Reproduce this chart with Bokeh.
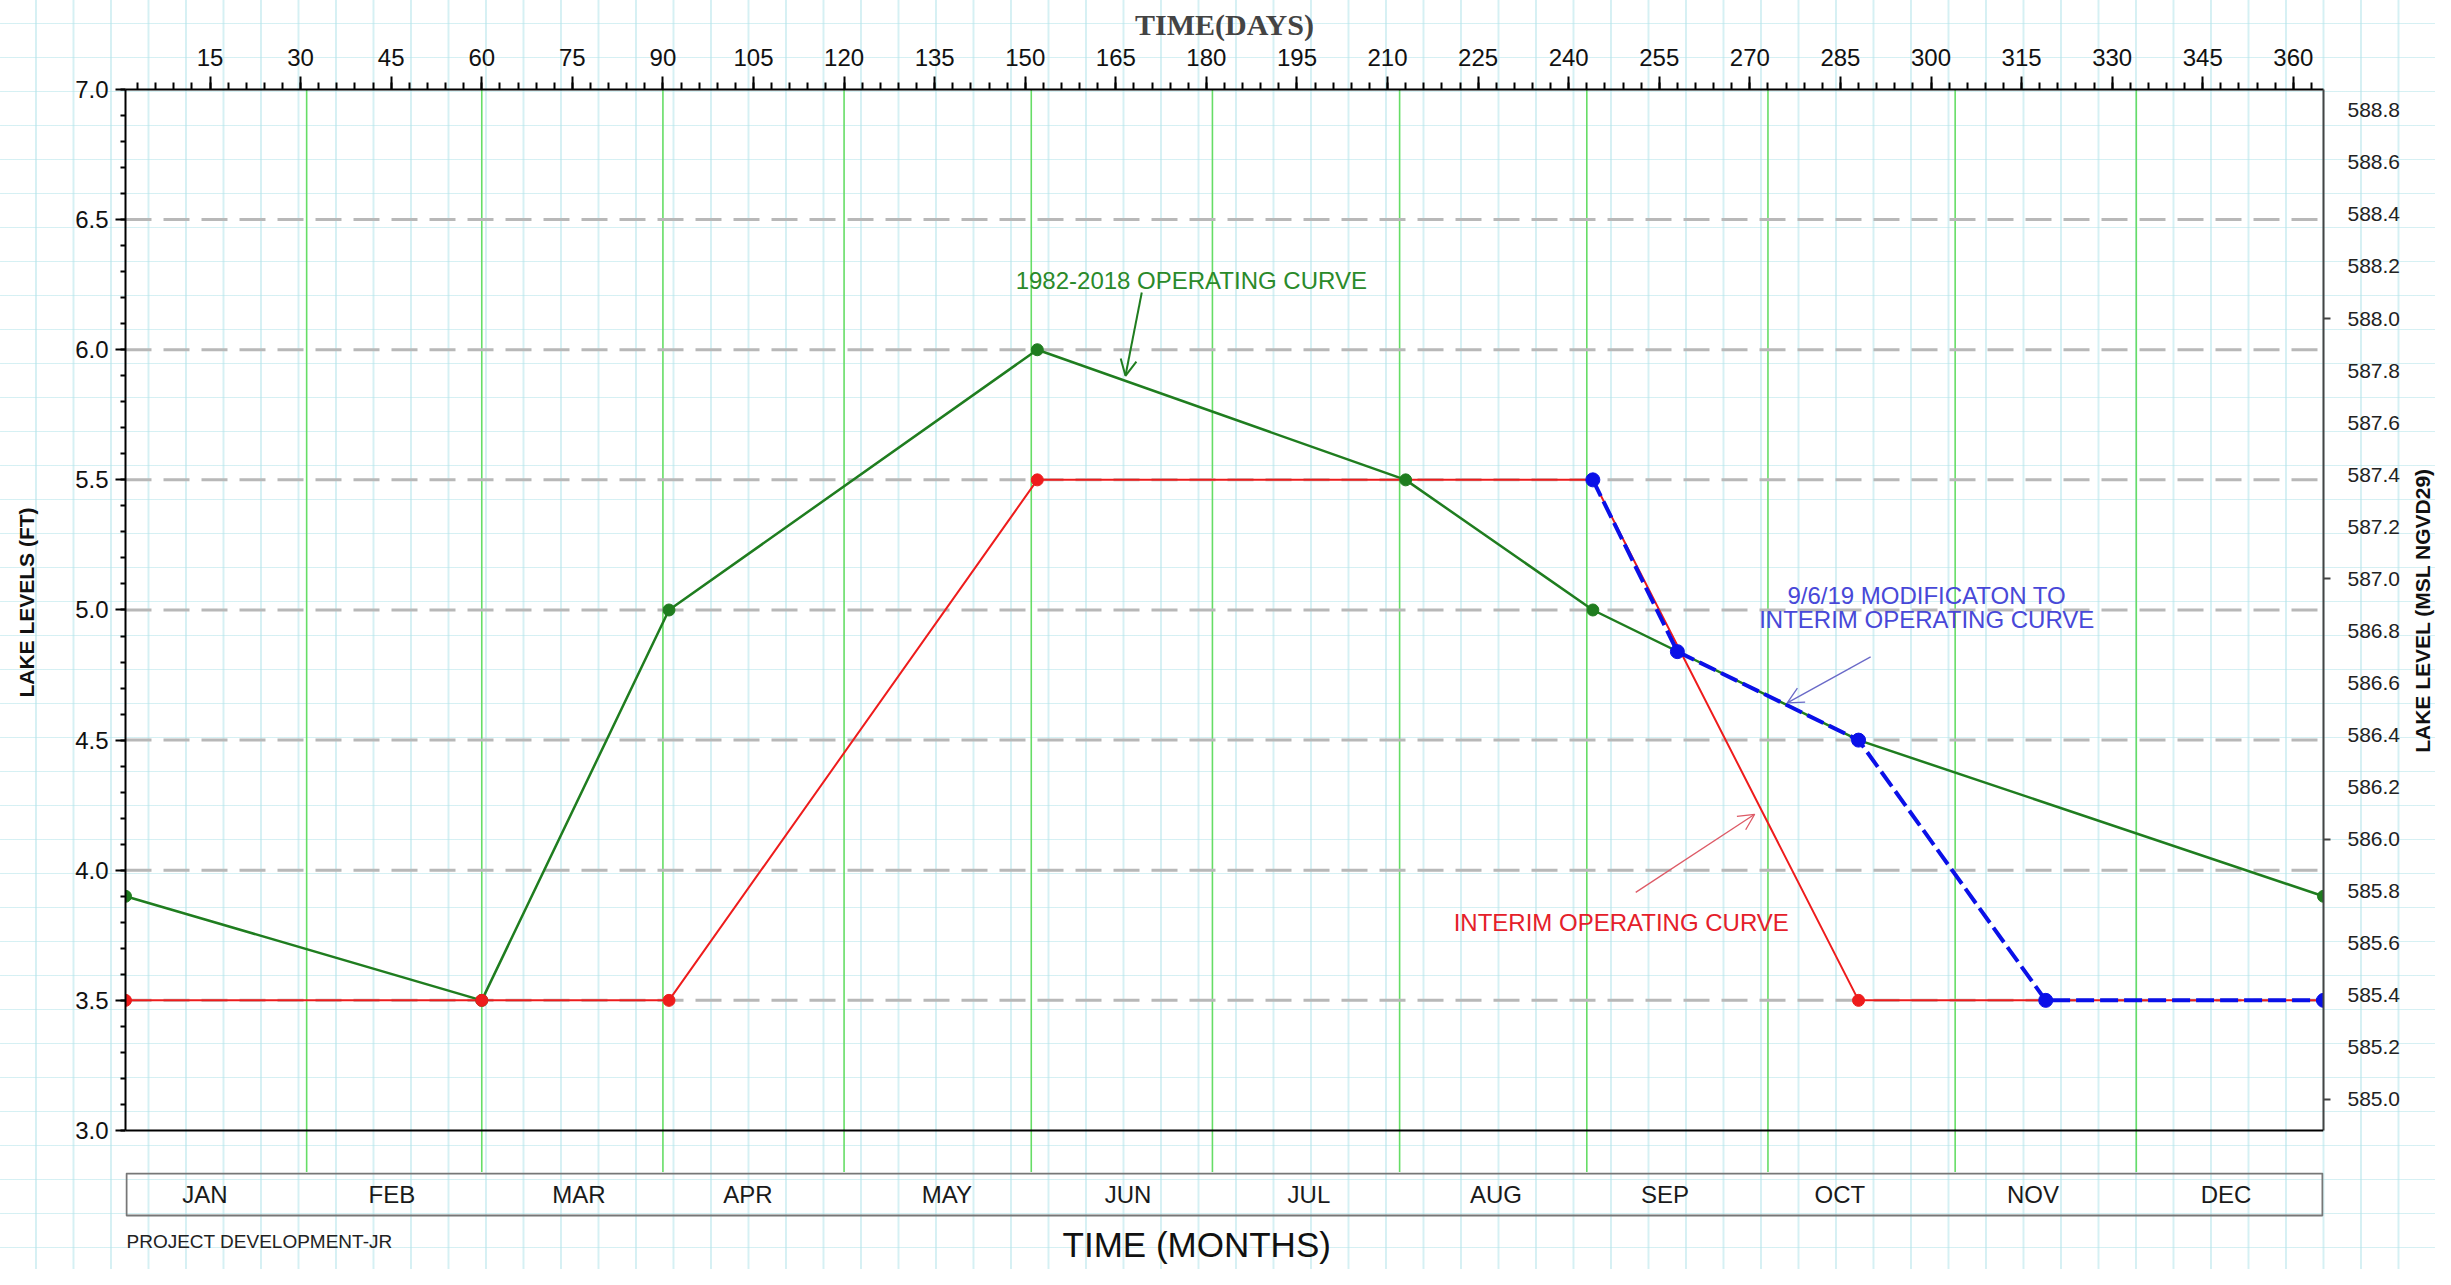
import math
from bokeh.plotting import figure
from bokeh.models import (Range1d, LinearAxis, FixedTicker, PrintfTickFormatter, Span,
                          Arrow, OpenHead, Title, InlineStyleSheet)
from bokeh.layouts import column, row
from bokeh.embed import file_html
from bokeh.resources import INLINE
from bokeh.core.properties import value

# ---------------- data ----------------
GREEN_DAYS = [1, 60, 91, 152, 213, 244, 288, 365]
GREEN_FT = [3.9, 3.5, 5.0, 6.0, 5.5, 5.0, 4.5, 3.9]
GREEN_MARK_IDX = [0, 1, 2, 3, 4, 5, 7]

RED_DAYS = [1, 60, 91, 152, 213, 244, 288, 365]
RED_FT = [3.5, 3.5, 3.5, 5.5, 5.5, 5.5, 3.5, 3.5]
RED_MARK_IDX = [0, 1, 2, 3, 6]

BLUE_DAYS = [244, 258, 288, 319, 365]
BLUE_FT = [5.5, 4.84, 4.5, 3.5, 3.5]

MONTHS = ["JAN", "FEB", "MAR", "APR", "MAY", "JUN", "JUL", "AUG", "SEP", "OCT", "NOV", "DEC"]
MONTH_LABEL_DAYS = [14, 45, 76, 104, 137, 167, 197, 228, 256, 285, 317, 349]
MONTH_EDGES = [31, 60, 90, 120, 151, 181, 212, 243, 273, 304, 334]

DAY_TICKS = list(range(15, 361, 15))
DAY_MINOR = list(range(3, 364, 3))
FT_TICKS = [3.0, 3.5, 4.0, 4.5, 5.0, 5.5, 6.0, 6.5, 7.0]
FT_MINOR = [round(3.0 + 0.1 * i, 1) for i in range(41)]
GRID_FT = [3.5, 4.0, 4.5, 5.0, 5.5, 6.0, 6.5]
MSL_OFFSET = 581.88
MSL_TICKS = [round(585.0 + 0.2 * i, 1) for i in range(20)]
MSL_MINOR = [585.0, 586.0, 587.0, 588.0]

# annotation texts / anchors (data coords of the main plot)
GREEN_NOTE = ("1982-2018 OPERATING CURVE", 177.5, 6.265)
GREEN_ARROW = (169.3, 6.22, 166.6, 5.90)
BLUE_NOTE = (["9/6/19 MODIFICATON TO", "INTERIM OPERATING CURVE"], 299.3, [5.054, 4.962])
BLUE_ARROW = (290.0, 4.82, 276.2, 4.643)
RED_NOTE = ("INTERIM OPERATING CURVE", 248.7, 3.80)
RED_ARROW = (251.1, 3.915, 270.8, 4.215)

# side / bottom titles (pixel anchors inside their own small panels)
LEFT_TITLE = ("LAKE LEVELS (FT)", 26, 602)
RIGHT_TITLE = ("LAKE LEVEL (MSL NGVD29)", 17, 610)
CREDIT = ("PROJECT DEVELOPMENT-JR", 1, 69)
MONTH_TITLE = ("TIME (MONTHS)", 178.4, 72)

# ---------------- styling ----------------
GREEN = "#1f7d1f"
RED = "#ee1c1c"
BLUE = "#0a10e8"
VGREEN = "#66dd66"
FONT = "Liberation Sans"
Y0 = 2.8386
W_L, W_MAIN, W_R = 44, 2361, 30
H_MAIN, H_BAND = 1172, 97

paper = InlineStyleSheet(css="""
:host {
  background-color: #ffffff;
  background-image:
    linear-gradient(to right, rgba(180,228,234,0.55) 0px, rgba(180,228,234,0.55) 1.5px, transparent 1.5px),
    linear-gradient(to bottom, rgba(180,228,234,0.55) 0px, rgba(180,228,234,0.55) 1.5px, transparent 1.5px);
  background-size: 37.5px 34px;
  background-position: 35px 23px;
  background-attachment: fixed;
}
""")


def bare(p):
    p.stylesheets = [paper]
    p.background_fill_color = None
    p.border_fill_color = None
    p.outline_line_color = None
    p.xgrid.visible = False
    p.ygrid.visible = False
    return p


x_rng = Range1d(1, 365)
p = bare(figure(width=W_MAIN, height=H_MAIN, x_range=x_rng, y_range=Range1d(Y0, 7.0),
                x_axis_location=None, y_axis_location=None, toolbar_location=None,
                output_backend="svg", min_border_left=81, min_border_right=82,
                min_border_top=89, min_border_bottom=0, title=None))

for d in MONTH_EDGES:
    p.add_layout(Span(location=d, dimension="height", line_color=VGREEN, line_width=1.6, level="underlay"))
for v in GRID_FT:
    p.add_layout(Span(location=v, dimension="width", line_color="#b8b8b8", line_width=3,
                      line_dash="26 12", level="underlay"))
p.add_layout(Span(location=3.0, dimension="width", line_color="black", line_width=2))

p.line(GREEN_DAYS, GREEN_FT, line_color=GREEN, line_width=2.5)
p.line(RED_DAYS, RED_FT, line_color=RED, line_width=2)
p.line(BLUE_DAYS, BLUE_FT, line_color=BLUE, line_width=4, line_dash="18 6")

p.scatter([GREEN_DAYS[i] for i in GREEN_MARK_IDX], [GREEN_FT[i] for i in GREEN_MARK_IDX],
          size=12, color=GREEN)
p.scatter([RED_DAYS[i] for i in RED_MARK_IDX], [RED_FT[i] for i in RED_MARK_IDX],
          size=12, color=RED)
p.scatter(BLUE_DAYS, BLUE_FT, size=14, color=BLUE)

txt = dict(text_font=value(FONT), text_font_size="24px", text_align="center", text_baseline="middle")
p.text(x=[GREEN_NOTE[1]], y=[GREEN_NOTE[2]], text=[GREEN_NOTE[0]], text_color="#2a8a2a", **txt)
p.text(x=[BLUE_NOTE[1]] * 2, y=BLUE_NOTE[2], text=BLUE_NOTE[0], text_color="#4848d8", **txt)
p.text(x=[RED_NOTE[1]], y=[RED_NOTE[2]], text=[RED_NOTE[0]], text_color="#e5202a", **txt)

for (xs, ys, xe, ye), col, lw in [(GREEN_ARROW, GREEN, 2), (BLUE_ARROW, "#6a6ac8", 1.3), (RED_ARROW, "#dd5a66", 1.3)]:
    p.add_layout(Arrow(x_start=xs, y_start=ys, x_end=xe, y_end=ye, line_color=col, line_width=lw,
                       end=OpenHead(size=16, line_color=col, line_width=lw)))

# axes
top = LinearAxis(ticker=FixedTicker(ticks=DAY_TICKS, minor_ticks=DAY_MINOR),
                 major_tick_in=0, major_tick_out=13, minor_tick_in=0, minor_tick_out=7,
                 major_label_standoff=11, axis_line_width=2, major_tick_line_width=2,
                 minor_tick_line_width=2, major_label_text_font_size="24px",
                 major_label_text_font=FONT, major_label_text_color="#111111")
p.add_layout(top, "above")

left = LinearAxis(ticker=FixedTicker(ticks=FT_TICKS, minor_ticks=FT_MINOR),
                  formatter=PrintfTickFormatter(format="%.1f"), bounds=(3.0, 7.0),
                  major_tick_in=0, major_tick_out=10, minor_tick_in=0, minor_tick_out=5,
                  major_label_standoff=7, axis_line_width=2, major_tick_line_width=2,
                  minor_tick_line_width=2, major_label_text_font_size="24px",
                  major_label_text_font=FONT, major_label_text_color="#111111")
p.add_layout(left, "left")

p.extra_y_ranges = {"msl": Range1d(Y0 + MSL_OFFSET, 7.0 + MSL_OFFSET)}
right = LinearAxis(y_range_name="msl", ticker=FixedTicker(ticks=MSL_TICKS, minor_ticks=MSL_MINOR),
                   formatter=PrintfTickFormatter(format="%.1f"),
                   bounds=(3.0 + MSL_OFFSET, 7.0 + MSL_OFFSET),
                   major_tick_in=0, major_tick_out=0, minor_tick_in=0, minor_tick_out=7,
                   major_label_standoff=17, axis_line_width=2, axis_line_color="#444444",
                   minor_tick_line_width=2, minor_tick_line_color="#444444",
                   major_label_text_font_size="21px", major_label_text_font=FONT,
                   major_label_text_color="#222222")
p.add_layout(right, "right")

p.add_layout(Title(text="TIME(DAYS)", align="center", offset=-19, text_font="Liberation Serif",
                   text_font_style="bold", text_font_size="30px", standoff=9), "above")

# month band + bottom texts (y in pixels from band top)
pad = 1 / 6.0385
p2 = bare(figure(width=W_MAIN, height=H_BAND, x_range=Range1d(1 - pad, 365 + pad),
                 y_range=Range1d(H_BAND, 0), x_axis_location=None, y_axis_location=None,
                 toolbar_location=None, output_backend="svg", min_border_left=80,
                 min_border_right=81, min_border_top=0, min_border_bottom=0, title=None))
p2.quad(left=1, right=365, top=1, bottom=43, fill_color=None, line_color="#777777", line_width=2)
p2.text(x=MONTH_LABEL_DAYS, y=22, text=MONTHS, text_font=value(FONT), text_font_size="24px",
        text_align="center", text_baseline="middle", text_color="#1a1a1a")
p2.text(x=[CREDIT[1]], y=[CREDIT[2]], text=[CREDIT[0]], text_align="left",
        text_baseline="alphabetic", text_font=value(FONT), text_font_size="19px",
        text_color="#222222")
p2.text(x=[MONTH_TITLE[1]], y=[MONTH_TITLE[2]], text=[MONTH_TITLE[0]], text_align="center",
        text_baseline="alphabetic", text_font=value(FONT), text_font_size="35px",
        text_color="#111111")

# side title panels (y in pixels from top)
side = dict(angle=math.pi / 2, text_align="center", text_baseline="middle",
            text_font=value(FONT), text_font_size="21px", text_font_style="bold",
            text_color="#111111")
pl = bare(figure(width=W_L, height=H_MAIN, x_range=Range1d(0, W_L), y_range=Range1d(H_MAIN, 0),
                 x_axis_location=None, y_axis_location=None, toolbar_location=None,
                 output_backend="svg", min_border=0, title=None))
pl.text(x=[LEFT_TITLE[1]], y=[LEFT_TITLE[2]], text=[LEFT_TITLE[0]], **side)
pr = bare(figure(width=W_R, height=H_MAIN, x_range=Range1d(0, W_R), y_range=Range1d(H_MAIN, 0),
                 x_axis_location=None, y_axis_location=None, toolbar_location=None,
                 output_backend="svg", min_border=0, title=None))
pr.text(x=[RIGHT_TITLE[1]], y=[RIGHT_TITLE[2]], text=[RIGHT_TITLE[0]], **side)

layout = row(pl, column(p, p2, spacing=0), pr, spacing=0)
layout.stylesheets = [paper]
open("out.html", "w").write(file_html(layout, INLINE))
